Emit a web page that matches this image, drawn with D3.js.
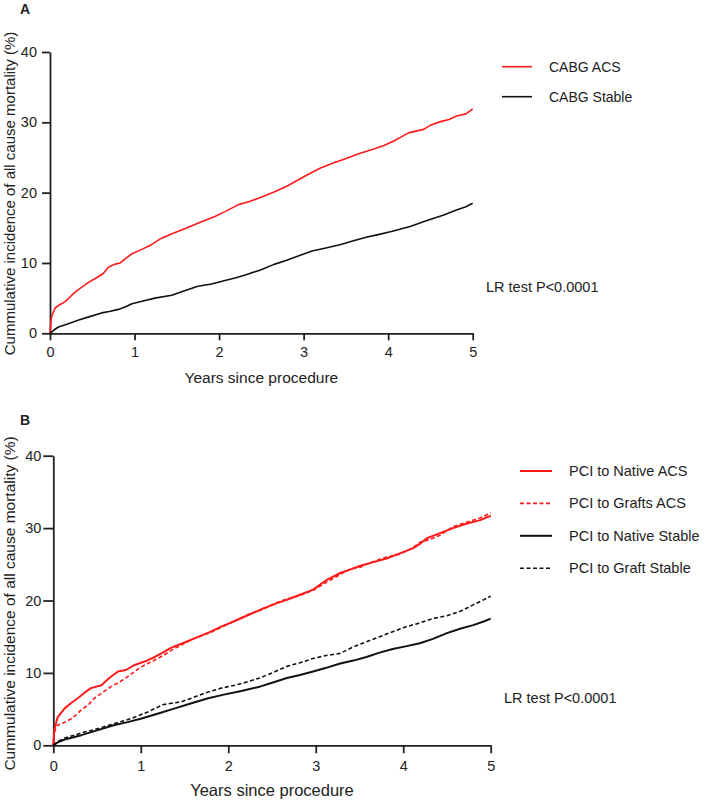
<!DOCTYPE html>
<html>
<head>
<meta charset="utf-8">
<script src="https://cdn.jsdelivr.net/npm/d3@7"></script>
<style>
  html, body { margin: 0; padding: 0; background: #fff; }
  svg { display: block; }
  text { font-family: Arial, "Liberation Sans", sans-serif; fill: #222; }
</style>
</head>
<body>
<svg id="chart" width="709" height="801"></svg>
<script>
// ---------- DATA (years since procedure, cumulative incidence %) ----------
const xTicks = [0, 1, 2, 3, 4, 5];
const yTicks = [0, 10, 20, 30, 40];
const xTitle = "Years since procedure";
const yTitle = "Cummulative incidence of all cause mortality (%)";
const pText = "LR test P<0.0001";

const seriesNamesA = ["CABG ACS", "CABG Stable"];
const seriesNamesB = ["PCI to Native ACS", "PCI to Grafts ACS", "PCI to Native Stable", "PCI to Graft Stable"];

const cabgAcs = [[0,0],[0.01,1.6],[0.02,2.4],[0.06,3.6],[0.12,4.1],[0.18,4.5],[0.24,5.2],[0.30,5.9],[0.38,6.6],[0.45,7.2],[0.55,7.9],[0.63,8.5],[0.69,9.4],[0.76,9.8],[0.83,10.0],[0.90,10.7],[0.97,11.3],[1.08,11.9],[1.20,12.6],[1.30,13.4],[1.45,14.2],[1.60,14.9],[1.70,15.4],[1.80,15.9],[1.95,16.6],[2.07,17.3],[2.23,18.3],[2.35,18.7],[2.49,19.3],[2.65,20.1],[2.80,20.9],[2.95,21.9],[3.04,22.5],[3.20,23.5],[3.35,24.2],[3.51,24.9],[3.67,25.6],[3.83,26.2],[3.95,26.7],[4.06,27.3],[4.15,27.9],[4.24,28.5],[4.42,29.0],[4.50,29.6],[4.62,30.1],[4.72,30.4],[4.81,30.9],[4.92,31.2],[5.0,31.9]];
const cabgStable = [[0,0],[0.05,0.5],[0.1,0.9],[0.2,1.3],[0.34,1.9],[0.45,2.3],[0.61,2.9],[0.70,3.1],[0.81,3.4],[0.90,3.8],[0.97,4.2],[1.1,4.6],[1.24,5.0],[1.44,5.4],[1.60,6.1],[1.75,6.7],[1.91,7.0],[2.07,7.5],[2.2,7.9],[2.31,8.3],[2.49,9.0],[2.65,9.8],[2.80,10.4],[2.96,11.1],[3.1,11.7],[3.25,12.1],[3.43,12.6],[3.6,13.2],[3.75,13.7],[3.87,14.0],[4.05,14.5],[4.26,15.2],[4.45,16.0],[4.65,16.8],[4.80,17.5],[4.92,18.0],[5.0,18.5]];

const pciNativeAcs = [[0,0],[0.01,2.0],[0.02,2.6],[0.05,3.9],[0.13,5.1],[0.2,5.8],[0.28,6.5],[0.35,7.2],[0.43,7.9],[0.55,8.3],[0.64,9.3],[0.74,10.2],[0.83,10.4],[0.93,11.1],[1.05,11.6],[1.16,12.2],[1.25,12.8],[1.35,13.5],[1.5,14.2],[1.62,14.8],[1.78,15.6],[1.92,16.4],[2.08,17.2],[2.23,18.0],[2.40,18.9],[2.55,19.6],[2.67,20.1],[2.82,20.8],[2.97,21.5],[3.12,22.8],[3.28,23.8],[3.40,24.3],[3.51,24.8],[3.66,25.3],[3.81,25.8],[3.96,26.5],[4.11,27.2],[4.20,27.9],[4.27,28.6],[4.42,29.3],[4.57,30.0],[4.72,30.6],[4.88,31.1],[5.0,31.7]];
const pciGraftsAcs = [[0,0],[0.01,1.5],[0.02,2.1],[0.05,2.8],[0.12,3.1],[0.21,3.7],[0.26,4.2],[0.32,4.9],[0.40,5.6],[0.47,6.5],[0.55,7.2],[0.66,8.1],[0.75,8.7],[0.83,9.3],[0.93,10.2],[1.00,10.8],[1.08,11.3],[1.18,11.9],[1.27,12.5],[1.39,13.4],[1.5,14.1],[1.62,14.8],[1.78,15.5],[1.92,16.3],[2.08,17.2],[2.23,18.1],[2.40,18.8],[2.55,19.7],[2.67,20.2],[2.82,20.7],[2.97,21.4],[3.12,22.5],[3.28,23.6],[3.40,24.4],[3.51,24.6],[3.66,25.4],[3.81,26.0],[3.96,26.4],[4.11,27.3],[4.20,28.1],[4.30,28.4],[4.42,29.0],[4.57,30.2],[4.72,30.8],[4.88,31.4],[5.0,32.1]];
const pciNativeStable = [[0,0],[0.05,0.4],[0.13,0.8],[0.32,1.4],[0.51,2.1],[0.70,2.8],[0.85,3.2],[1.01,3.7],[1.20,4.4],[1.39,5.1],[1.58,5.8],[1.77,6.5],[1.95,7.0],[2.15,7.5],[2.36,8.1],[2.52,8.7],[2.67,9.3],[2.82,9.7],[2.97,10.2],[3.12,10.7],[3.28,11.3],[3.43,11.7],[3.58,12.2],[3.73,12.8],[3.88,13.3],[4.04,13.7],[4.19,14.1],[4.34,14.7],[4.50,15.5],[4.65,16.1],[4.80,16.6],[4.92,17.1],[5.0,17.5]];
const pciGraftStable = [[0,0],[0.05,0.5],[0.13,1.0],[0.32,1.7],[0.51,2.3],[0.70,3.0],[0.89,3.7],[1.08,4.6],[1.25,5.6],[1.35,5.8],[1.46,6.0],[1.60,6.6],[1.73,7.2],[1.92,7.9],[2.08,8.3],[2.23,8.8],[2.36,9.3],[2.52,10.1],[2.67,10.9],[2.82,11.4],[2.97,12.0],[3.12,12.4],[3.28,12.7],[3.43,13.6],[3.58,14.3],[3.73,15.0],[3.88,15.7],[4.04,16.4],[4.19,16.9],[4.34,17.5],[4.50,17.9],[4.65,18.5],[4.80,19.4],[4.92,20.1],[5.0,20.6]];

// ---------- DRAW ----------
const svg = d3.select("#chart");
const RED = "#ff1a1a", BLACK = "#111";

function panel(cfg) {
  const x = d3.scaleLinear().domain([0, 5]).range([cfg.x0, cfg.x1]);
  const y = d3.scaleLinear().domain([0, 40]).range([cfg.y0, cfg.y1]);
  const g = svg.append("g");

  // axes
  const ax = g.append("g").attr("transform", `translate(0,${cfg.y0})`)
    .call(d3.axisBottom(x).tickValues(xTicks).tickFormat(d3.format("d"))
      .tickSize(cfg.xTickLen).tickPadding(cfg.xPad).tickSizeOuter(0));
  const ay = g.append("g").attr("transform", `translate(${cfg.x0},0)`)
    .call(d3.axisLeft(y).tickValues(yTicks).tickFormat(d3.format("d"))
      .tickSize(cfg.yTickLen).tickPadding(cfg.yPad).tickSizeOuter(0));
  [ax, ay].forEach(a => {
    a.selectAll("path, line").attr("stroke", "#222").attr("stroke-width", 1.8);
    a.selectAll("text").attr("font-size", 14.5).attr("fill", "#222")
      .style("font-family", 'Arial, "Liberation Sans", sans-serif');
  });

  // titles
  g.append("text").attr("x", (cfg.x0 + cfg.x1) / 2).attr("y", cfg.xTitleY)
    .attr("text-anchor", "middle").attr("font-size", cfg.xTitleSize).text(xTitle);
  g.append("text").attr("transform", `translate(14.5,${cfg.yTitleC}) rotate(-90)`)
    .attr("text-anchor", "middle").attr("font-size", cfg.yTitleSize).text(yTitle);
  g.append("text").attr("x", 20).attr("y", cfg.labelY).attr("font-size", 14)
    .attr("font-weight", "bold").attr("fill", "#111").text(cfg.label);

  // lines
  const line = d3.line().x(d => x(d[0])).y(d => y(d[1]));
  cfg.series.forEach(s => {
    g.append("path").datum(s.data).attr("d", line).attr("fill", "none")
      .attr("stroke", s.color).attr("stroke-width", s.width)
      .attr("stroke-dasharray", s.dash || null).attr("stroke-linejoin", "round");
  });

  // legend
  cfg.series.forEach((s, i) => {
    const ly = cfg.legY + i * cfg.legStep;
    g.append("line").attr("x1", cfg.legX).attr("x2", cfg.legX + cfg.legLen)
      .attr("y1", ly).attr("y2", ly).attr("stroke", s.color)
      .attr("stroke-width", s.width).attr("stroke-dasharray", s.dash || null);
    g.append("text").attr("x", cfg.legTextX).attr("y", ly).attr("dy", "0.35em")
      .attr("font-size", cfg.legSize).text(s.name);
  });

  g.append("text").attr("x", cfg.pX).attr("y", cfg.pY).attr("dy", "0.35em")
    .attr("font-size", 14.5).text(pText);
}

panel({
  label: "A", labelY: 14,
  x0: 50, x1: 472.7, y0: 333.3, y1: 52,
  xTickLen: 7, xPad: 6, yTickLen: 8, yPad: 5,
  xTitleY: 382.5, xTitleSize: 15.5, yTitleSize: 15, yTitleC: 193.5,
  legX: 502, legLen: 30, legTextX: 549, legY: 66.7, legStep: 30, legSize: 14,
  pX: 486, pY: 287,
  series: [
    { name: seriesNamesA[0], data: cabgAcs, color: RED, width: 1.6 },
    { name: seriesNamesA[1], data: cabgStable, color: BLACK, width: 1.6 }
  ]
});

panel({
  label: "B", labelY: 424.5,
  x0: 53.3, x1: 490.7, y0: 745.3, y1: 455.7,
  xTickLen: 8, xPad: 7, yTickLen: 10, yPad: 2,
  xTitleY: 795.5, xTitleSize: 16.5, yTitleSize: 15.5, yTitleC: 603.5,
  legX: 520, legLen: 32, legTextX: 569, legY: 471, legStep: 32.4, legSize: 14.5,
  pX: 504, pY: 697.5,
  series: [
    { name: seriesNamesB[0], data: pciNativeAcs, color: RED, width: 2 },
    { name: seriesNamesB[1], data: pciGraftsAcs, color: RED, width: 1.6, dash: "4,2.5" },
    { name: seriesNamesB[2], data: pciNativeStable, color: BLACK, width: 2 },
    { name: seriesNamesB[3], data: pciGraftStable, color: BLACK, width: 1.6, dash: "4,2.5" }
  ]
});
</script>
</body>
</html>
